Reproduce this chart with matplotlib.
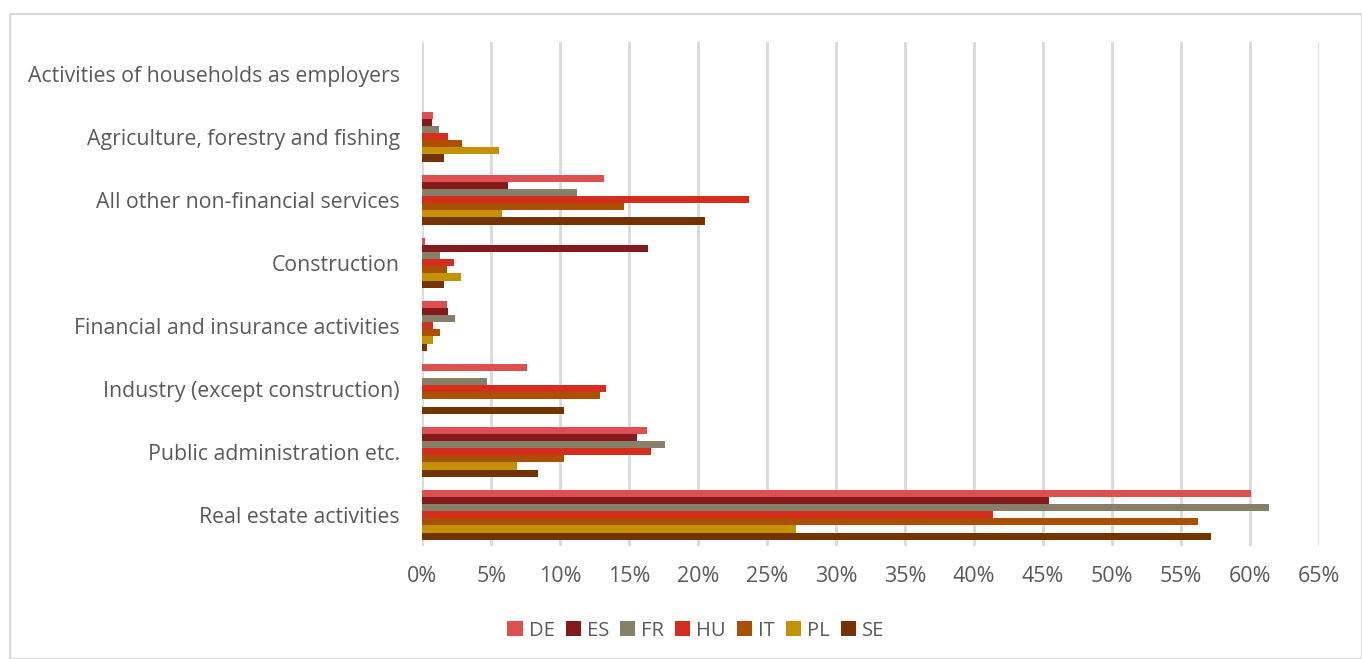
import matplotlib.pyplot as plt
import numpy as np
from matplotlib.patches import Rectangle

plt.rcParams["font.family"] = ["Open Sans", "DejaVu Sans"]

categories = [
    "Activities of households as employers",
    "Agriculture, forestry and fishing",
    "All other non-financial services",
    "Construction",
    "Financial and insurance activities",
    "Industry (except construction)",
    "Public administration etc.",
    "Real estate activities",
]
countries = ["DE", "ES", "FR", "HU", "IT", "PL", "SE"]
colors = ["#DE5050", "#841A1C", "#868068", "#D62E1E", "#AA5000", "#C49100", "#733400"]

# shares in % per country, one value per category (top to bottom)
DE = [0, 0.8, 13.2, 0.17, 1.8, 7.6, 16.3, 60.1]
ES = [0, 0.7, 6.2, 16.4, 1.9, 0, 15.6, 45.4]
FR = [0, 1.25, 11.2, 1.3, 2.4, 4.7, 17.6, 61.4]
HU = [0, 1.9, 23.7, 2.3, 0.8, 13.3, 16.6, 41.4]
IT = [0, 2.9, 14.6, 1.8, 1.3, 12.9, 10.3, 56.2]
PL = [0, 5.6, 5.8, 2.8, 0.8, 0, 6.9, 27.1]
SE = [0, 1.6, 20.5, 1.6, 0.36, 10.3, 8.4, 57.2]
series = [DE, ES, FR, HU, IT, PL, SE]

fig = plt.figure(figsize=(13.62, 6.59), dpi=100)
ax = fig.add_axes([0.31, 0.171, 0.6584, 0.765])

y = np.arange(len(categories))
h = 0.79 / len(countries)
for j, (name, vals) in enumerate(zip(countries, series)):
    ax.barh(y + (j - 3) * h, vals, height=h, color=colors[j], label=name, zorder=3)

ax.set_ylim(len(categories) - 0.5, -0.5)
ax.set_xlim(0, 65)
ax.set_xticks(np.arange(0, 66, 5))
ax.set_xticklabels([f"{v}%" for v in range(0, 66, 5)])
ax.set_yticks(y)
ax.set_yticklabels(categories)
ax.tick_params(axis="y", length=0, pad=16, labelsize=15.3, labelcolor="#595959")
ax.tick_params(axis="x", length=0, pad=14, labelsize=15.5, labelcolor="#595959")
ax.grid(axis="x", color="#D9D9D9", linewidth=2, zorder=0)
for s in ax.spines.values():
    s.set_visible(False)

fig.legend(loc="center", bbox_to_anchor=(0.511, 0.043), ncol=7, frameon=False,
           handlelength=0.75, handleheight=0.75, handletextpad=0.3, columnspacing=0.55,
           fontsize=14.5, labelcolor="#595959")

fig.patches.append(Rectangle((10 / 1362, 0), 1 - 10 / 1362, 1 - 14 / 659,
                             transform=fig.transFigure, fill=False,
                             edgecolor="#D9D9D9", linewidth=1.5))

fig.savefig("out.png", dpi=100)
